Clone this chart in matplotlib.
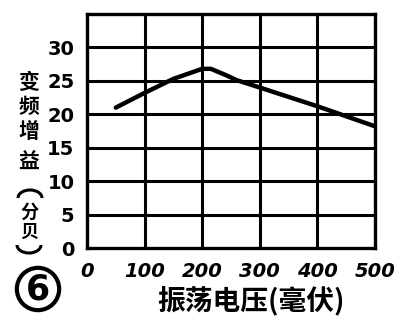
import matplotlib
matplotlib.use("Agg")
import matplotlib.pyplot as plt
from matplotlib.patches import Arc

plt.rcParams['font.family'] = ['Noto Sans CJK SC', 'DejaVu Sans']

x_vals = [50, 100, 150, 180, 200, 215, 240, 260, 300, 350, 400, 450, 500]
gain_db = [21.0, 23.2, 25.3, 26.2, 26.8, 26.8, 25.9, 25.1, 24.0, 22.6, 21.2, 19.7, 18.2]
x_ticks = [0, 100, 200, 300, 400, 500]
y_ticks = [0, 5, 10, 15, 20, 25, 30]
x_label = "振荡电压(毫伏)"
y_label_chars = ["变", "频", "增", "益", "分", "贝"]
panel_tag = "6"

W, H = 394, 322
fig = plt.figure(figsize=(W / 100, H / 100), dpi=100)
ax = fig.add_axes([87 / W, 1 - 248 / H, 288 / W, 234 / H])
ax.set_xlim(0, 500)
ax.set_ylim(0, 35)
ax.plot(x_vals, gain_db, color='black', lw=3.2, solid_capstyle='round', solid_joinstyle='round')
for xv in x_ticks[1:-1]:
    ax.axvline(xv, color='black', lw=2.2)
for yv in y_ticks[1:]:
    ax.axhline(yv, color='black', lw=2.2)
for s in ax.spines.values():
    s.set_linewidth(2.4)
ax.set_xticks(x_ticks)
ax.set_yticks(y_ticks)
ax.tick_params(axis='x', length=0, pad=10)
ax.tick_params(axis='y', length=0, pad=9)
tick_font = dict(family=['DejaVu Sans Condensed', 'DejaVu Sans'], weight='bold', size=14)
ax.set_xticklabels([str(v) for v in x_ticks], **tick_font)
ax.set_yticklabels([str(v) for v in y_ticks], **tick_font)
for lbl in ax.get_xticklabels():
    lbl.set_style('italic')

fig.text(251 / W, 1 - 301 / H, x_label, ha='center', va='center', fontsize=20, weight='bold')
ys = [83, 107, 132, 162, 212, 232]
sizes = [15, 15, 15, 15, 13, 13]
for ch, yp, fs in zip(y_label_chars, ys, sizes):
    fig.text(29 / W, 1 - yp / H, ch, ha='center', va='center', fontsize=fs, weight='bold')

# vertical-form brackets around 分贝
ov = fig.add_axes([0, 0, 1, 1], zorder=-1)
ov.set_xlim(0, W)
ov.set_ylim(0, H)
ov.axis('off')
ov.add_patch(Arc((30, H - 198), 24, 16, theta1=0, theta2=180, lw=2.2, color='black'))
ov.add_patch(Arc((29, H - 245), 24, 16, theta1=180, theta2=360, lw=2.2, color='black'))

fig.text(38 / W, 1 - 289 / H, panel_tag, ha='center', va='center', fontsize=25, weight='bold',
         family=['DejaVu Sans'],
         bbox=dict(boxstyle='circle,pad=0.12', fc='white', ec='black', lw=3))

fig.savefig("out.png", dpi=100)
